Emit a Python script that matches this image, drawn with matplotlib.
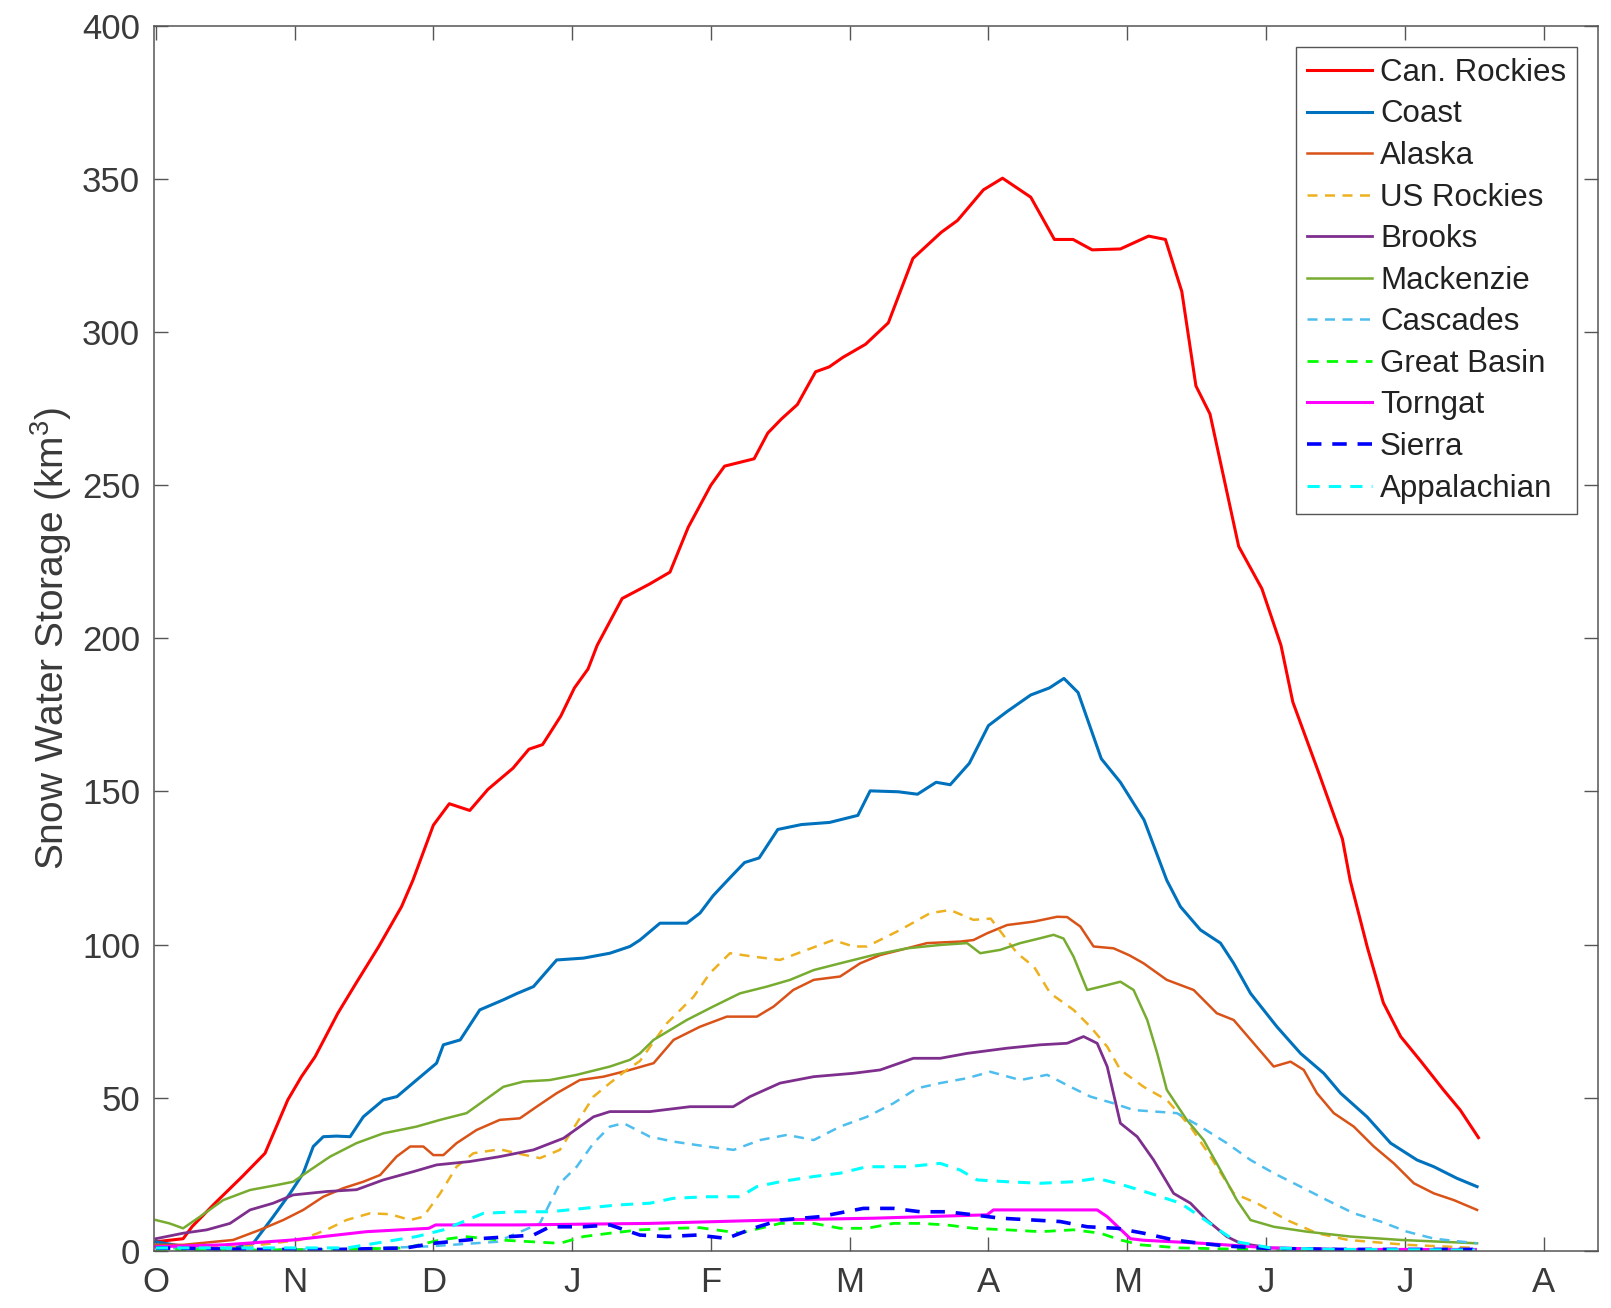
import numpy as np
import matplotlib
matplotlib.use("Agg")
import matplotlib.pyplot as plt

# Snow water storage by mountain region, day of water year (0 = 1 Oct)

months = ["O", "N", "D", "J", "F", "M", "A", "M", "J", "J", "A"]

can_rockies_day = [0, 6, 8, 13, 19, 24, 26.5, 29, 32, 35, 40, 44, 49, 54, 56.5, 61, 64.5, 69, 73,
                   78.5, 82, 85, 89, 92, 95, 97, 102.5, 108.5, 113, 117, 122, 125, 131.5, 134.5,
                   137.5, 141, 145, 148, 151, 156, 161, 166.4, 172.6, 176.2, 181.9, 186.1, 192.3,
                   197.5, 201.6, 205.8, 212, 218.2, 221.9, 225.5, 228.6, 231.7, 238, 243.1, 247.3,
                   249.9, 255.6, 260.8, 262.5, 266.3, 269.8, 273.6, 278, 283, 286.7, 290.7]
can_rockies_swe = [3, 4, 8, 15.6, 24.3, 31.9, 40.6, 49.3, 56.9, 63.4, 77.6, 87.4, 99.4, 112.4, 121,
                   139, 146, 143.8, 150.7, 157.6, 163.8, 165.3, 174.6, 183.8, 190, 197.7, 213,
                   217.7, 221.6, 236.2, 250, 256.2, 258.6, 267, 271.6, 276.3, 287, 288.6, 291.7,
                   296, 303, 324, 332.5, 336.4, 346.4, 350.2, 344, 330.2, 330.2, 326.8, 327.1,
                   331.3, 330.2, 313.2, 282.4, 273.2, 230, 216.2, 197.7, 179.2, 156.1, 134.5, 121,
                   99, 81, 70, 62, 52.6, 46, 37]

coast_day = [0, 8, 16, 21.4, 25.8, 29.5, 32.4, 34.6, 36.8, 39.7, 42.7, 45.6, 50, 53, 57.3, 61.7,
             63.2, 66.9, 71.2, 76.4, 79.3, 83, 88.1, 94, 99.8, 104.2, 106.4, 110.8, 116.7, 119.6,
             122.5, 126.3, 129.4, 132.6, 136.7, 141.9, 148.1, 154.3, 157, 163.2, 167.4, 171.5,
             174.6, 178.8, 183, 187.1, 192.3, 196.4, 199.6, 202.7, 207.8, 212, 217.2, 222.2,
             225.2, 229.6, 234, 236.9, 240.6, 246.4, 251.6, 256.7, 260.4, 266.2, 271.4, 277.2,
             280.9, 286, 290.4]
coast_swe = [3, 1, 0.5, 2.5, 11.2, 18.8, 25.4, 34.1, 37.3, 37.5, 37.3, 43.8, 49.3, 50.4, 55.8,
             61.3, 67.3, 68.9, 78.7, 82, 84, 86.3, 95, 95.6, 97.2, 99.4, 101.5, 107, 107, 110.3,
             116, 122, 126.8, 128.3, 137.6, 139.2, 139.9, 142.2, 150.2, 149.9, 149.1, 153, 152.2,
             159.2, 171.5, 176.1, 181.5, 183.8, 186.9, 182.3, 160.7, 153, 140.7, 121, 112.4,
             104.8, 100.5, 93.9, 84.1, 73.2, 64.5, 58, 51.5, 43.8, 35.2, 29.7, 27.5, 23.7, 21]

alaska_day = [0, 6, 17, 22.9, 28, 32.4, 36.8, 41.2, 45.6, 49.3, 52.9, 55.9, 58.8, 61, 63.2, 66.1,
              70.5, 75.6, 80, 83.7, 88.1, 93.2, 98.4, 104.2, 109.4, 113.8, 119.6, 125.5, 132.1,
              135.8, 140.1, 144.6, 150.4, 154.8, 159.2, 165.1, 169.5, 176.8, 179.7, 182.7, 187.1,
              192.9, 198.1, 200.3, 203.2, 206.1, 210.5, 214, 217.1, 222.2, 228.1, 233.2, 236.9,
              241.3, 245.7, 249.4, 252.3, 255.2, 258.9, 263.3, 267.7, 272.1, 276.5, 280.9, 285.3,
              290.4]
alaska_swe = [2, 2, 3.6, 6.9, 10.1, 13.4, 17.7, 20.5, 22.6, 24.8, 30.8, 34.1, 34.1, 31.3, 31.3,
              35.2, 39.5, 42.8, 43.3, 47.1, 51.5, 55.8, 56.9, 59.1, 61.3, 68.9, 73.2, 76.5, 76.5,
              79.8, 85.2, 88.5, 89.6, 93.9, 96.6, 98.8, 100.5, 101, 101.5, 103.7, 106.4, 107.5,
              109.1, 109, 105.9, 99.4, 98.8, 96.5, 93.9, 88.5, 85.2, 77.6, 75.4, 67.8, 60.2, 61.8,
              59.1, 51.5, 45, 40.6, 34.1, 28.6, 22.1, 18.8, 16.6, 13.4]

us_rockies_day = [0, 10, 20, 31.7, 37.5, 41.9, 47.1, 51.5, 55.9, 58.8, 62.5, 66.1, 69.8, 75.6,
                  79.3, 84.4, 88.8, 92.5, 96.2, 99.8, 103.5, 106.4, 112.3, 118.2, 121.8, 126.2,
                  131.3, 137.2, 143.1, 148.9, 153.3, 156.3, 163.6, 170.2, 174.6, 179.7, 183.5,
                  189.3, 193, 196.6, 201.7, 205.4, 209.1, 212, 217.1, 222.2, 227.4, 231.8, 236.9,
                  242, 248.6, 255.2, 262, 275, 290]
us_rockies_swe = [1, 1, 1.5, 3.6, 6.9, 10.1, 12.3, 12, 10.1, 11.2, 18.8, 27.5, 31.9, 33.2, 31.9,
                  30.3, 33, 41.7, 50.4, 54.8, 59.1, 62, 74.3, 83, 90.7, 97.2, 96.1, 95, 98.3,
                  101.5, 99.4, 99.4, 104.8, 110.3, 111.3, 108.1, 108.5, 97.2, 92.8, 84.1, 78.7,
                  73.2, 66.7, 59.1, 53.6, 49.3, 40.6, 30.8, 18.8, 15.6, 10.1, 5.8, 3.6, 2, 1]

brooks_day = [0, 6, 11.2, 16.3, 20.7, 25.8, 30.2, 37.5, 44.1, 50, 56.6, 61.7, 69, 75.6, 83, 89.6,
              93.2, 96.2, 99.8, 108.6, 117.4, 126.9, 130.6, 137.2, 144.6, 153.3, 159.2, 166.5,
              172.4, 178.3, 187.1, 194.4, 200.3, 203.9, 206.9, 209.1, 212, 215.7, 219.3, 223.7,
              227.4, 231, 235.4, 238.4, 245, 260, 290]
brooks_swe = [4, 5.8, 6.9, 9, 13.4, 15.6, 18.3, 19.4, 20, 23.2, 25.9, 28.1, 29.2, 30.8, 33, 36.8,
              40.6, 43.8, 45.5, 45.5, 47.1, 47.1, 50.4, 54.8, 56.9, 58, 59.1, 62.9, 62.9, 64.5,
              66.2, 67.3, 67.8, 70, 67.8, 60.2, 41.7, 37.3, 29.7, 18.8, 15.6, 10.1, 4.7, 2.5, 1,
              0.5, 0.3]

mackenzie_day = [0, 3, 6, 9.7, 14.8, 20.7, 26.5, 30.2, 33.9, 38.3, 44.1, 50, 57.3, 62.5, 68.3,
                 76.4, 80.8, 86.6, 92.5, 99.8, 104.2, 106.4, 109.4, 116.7, 122.5, 128.4, 134.3,
                 139.4, 144.6, 150.4, 157.7, 165.1, 172.4, 178.3, 181.2, 185.6, 190, 194.4, 197.3,
                 199.5, 201.7, 204.7, 209.1, 212, 214.9, 217.9, 220.1, 222.2, 226.6, 230.3, 234,
                 237.6, 240.6, 245.7, 253, 262.6, 273.6, 290.4]
mackenzie_swe = [10.1, 9, 7.4, 11.2, 16.6, 19.9, 21.5, 22.6, 26.4, 30.8, 35.2, 38.4, 40.6, 42.8,
                 45, 53.6, 55.3, 55.8, 57.5, 60.2, 62.4, 64.5, 68.9, 75.4, 79.8, 84.1, 86.3, 88.5,
                 91.7, 93.9, 96.6, 98.8, 99.9, 100.5, 97.2, 98.3, 100.5, 102.1, 103.2, 102, 96.1,
                 85.2, 86.8, 87.9, 85.2, 75.4, 64.5, 52.6, 42.8, 36.2, 26.4, 16.6, 10.1, 7.9, 6.3,
                 4.7, 3.6, 2.5]

cascades_day = [0, 20, 40, 60, 75, 84.4, 88.8, 92.5, 96.2, 99.8, 102.8, 108.6, 113.8, 121.1, 127,
                132.8, 138.7, 144.6, 150.4, 156.3, 162.1, 167.3, 172.4, 178.3, 183.4, 190, 195.9,
                201, 205.4, 210.5, 214.9, 224.4, 229.6, 235.4, 240.6, 245.7, 251.6, 257.4, 263.3,
                269.2, 275, 281, 290.4]
cascades_swe = [1, 0.5, 0.5, 1.5, 3, 9, 22.1, 27.5, 35.2, 40.6, 41.7, 37.3, 35.7, 34.1, 33, 36.2,
                37.9, 36.2, 40.6, 43.8, 48.2, 53.1, 54.8, 56.4, 58.5, 55.8, 57.5, 53.6, 50.4, 48.2,
                46, 45, 40.6, 35.2, 29.7, 25.4, 21, 16.6, 12.3, 9.6, 6.3, 4, 2.5]

great_basin_day = [0, 20, 40, 55, 62.5, 68, 75.4, 88.8, 94, 99.8, 106.4, 113.8, 119.6, 128.4,
                   137.2, 144.6, 150.4, 156.3, 162.1, 168, 173.8, 179.7, 187.1, 194.4, 201.7,
                   207.6, 212, 216.4, 225, 240, 290]
great_basin_swe = [0.5, 0.3, 0.5, 1, 3.6, 4.7, 3.6, 2.5, 4.7, 5.8, 6.9, 7.4, 7.6, 5.8, 9, 9, 7.4,
                   7.4, 9, 9, 8.5, 7.4, 6.9, 6.3, 6.9, 5.8, 3.6, 2, 1, 0.5, 0.3]

torngat_day = [0, 15, 30.2, 46.3, 60, 61.5, 79.3, 108.6, 135.8, 157.8, 182.7, 184.1, 206.9, 209.1,
               214.2, 217.1, 230, 245, 260, 290]
torngat_swe = [1.4, 2, 3.6, 6.3, 7.4, 8.5, 8.5, 9, 10.1, 10.7, 11.8, 13.4, 13.4, 11.2, 4, 3.5, 2.5,
               1, 0.5, 0.5]

sierra_day = [0, 20, 40, 55, 61, 72, 83, 86.6, 94, 99.8, 106.4, 112.3, 118.9, 125.5, 131.3, 137.2,
              146, 155.5, 162.1, 168, 173.8, 179.7, 185.6, 192.9, 198.8, 204.7, 211.3, 217.1,
              223.7, 229.6, 235.4, 245, 260, 290]
sierra_swe = [1, 0.5, 0.5, 1, 2.5, 4.1, 5.2, 7.9, 7.9, 8.5, 5.2, 4.7, 5.2, 4.1, 7.4, 10.1, 11.2,
              13.9, 13.9, 12.8, 12.8, 11.8, 10.7, 10.1, 9.6, 7.9, 7.4, 5.8, 3.6, 2.5, 1.6, 0.8,
              0.5, 0.5]

appalachian_day = [0, 20, 42, 57.3, 63.2, 72, 79.3, 86.6, 94, 101.3, 108.6, 113.8, 121.1, 128.4,
                   132.1, 137.2, 144.6, 150.4, 156.3, 165.1, 172.4, 176.8, 180.5, 187.1, 194.4,
                   201.7, 206.9, 212, 218.6, 225.2, 229.6, 234.7, 237.6, 245, 260, 290]
appalachian_swe = [1, 1, 1, 4.7, 6.9, 12.3, 12.8, 12.8, 13.9, 15, 15.6, 17.2, 17.7, 17.7, 21, 22.6,
                   24.3, 25.4, 27.5, 27.5, 28.6, 26.4, 23.2, 22.6, 22.1, 22.6, 23.7, 21.8, 18.8,
                   15.6, 11.2, 5.8, 3, 1, 0.5, 0.3]

# (label, days, values, color, linestyle, linewidth)
series = [
    ("Can. Rockies", can_rockies_day, can_rockies_swe, "#FF0000", "-", 2.2),
    ("Coast", coast_day, coast_swe, "#0072BD", "-", 2.2),
    ("Alaska", alaska_day, alaska_swe, "#D95319", "-", 1.8),
    ("US Rockies", us_rockies_day, us_rockies_swe, "#EDB120", "--", 1.8),
    ("Brooks", brooks_day, brooks_swe, "#7E2F8E", "-", 2.0),
    ("Mackenzie", mackenzie_day, mackenzie_swe, "#77AC30", "-", 1.8),
    ("Cascades", cascades_day, cascades_swe, "#4DBEEE", "--", 1.8),
    ("Great Basin", great_basin_day, great_basin_swe, "#00FF00", "--", 2.0),
    ("Torngat", torngat_day, torngat_swe, "#FF00FF", "-", 2.2),
    ("Sierra", sierra_day, sierra_swe, "#0000FF", "--", 2.6),
    ("Appalachian", appalachian_day, appalachian_swe, "#00FFFF", "--", 2.2),
]

plt.rcParams['font.family'] = ['Liberation Sans', 'DejaVu Sans']
plt.rcParams['mathtext.fontset'] = 'custom'
plt.rcParams['mathtext.rm'] = 'Liberation Sans'
plt.rcParams['mathtext.it'] = 'Liberation Sans'

fig = plt.figure(figsize=(16.11, 13.08), dpi=100)
ax = fig.add_axes([0.0956, 0.0436, 0.8964, 0.9368])

for label, d, v, c, ls, lw in series:
    ax.plot(d, v, color=c, linestyle=ls, linewidth=lw, label=label,
            dashes=(4, 3) if ls == "--" else (None, None))

ax.set_xlim(-0.4, 317)
ax.set_ylim(0, 400)
ax.set_xticks(np.arange(len(months)) * 30.5)
ax.set_xticklabels(months)
ax.set_yticks(np.arange(0, 401, 50))

axis_grey = "#3a3a3a"
for spine in ax.spines.values():
    spine.set_linewidth(1.1)
    spine.set_color("#555555")
ax.tick_params(axis='both', which='major', direction='in', length=10, width=1.0,
               colors="#555555", labelcolor=axis_grey, labelsize=25,
               top=True, right=True)
ax.tick_params(axis='x', pad=11)
ax.tick_params(axis='y', pad=10)

ax.set_ylabel("Snow Water Storage (km$^3$)", fontsize=28, color=axis_grey, labelpad=6)

leg = ax.legend(loc='upper right', bbox_to_anchor=(0.9855, 0.9826), borderaxespad=0,
                fontsize=22.5, frameon=True, fancybox=False, framealpha=1,
                edgecolor="#555555", handlelength=2.1, handletextpad=0.25,
                labelspacing=0.37, borderpad=0.35)
leg.get_frame().set_linewidth(1.0)
for t in leg.get_texts():
    t.set_color("#222222")

fig.savefig("out.png", dpi=100)
